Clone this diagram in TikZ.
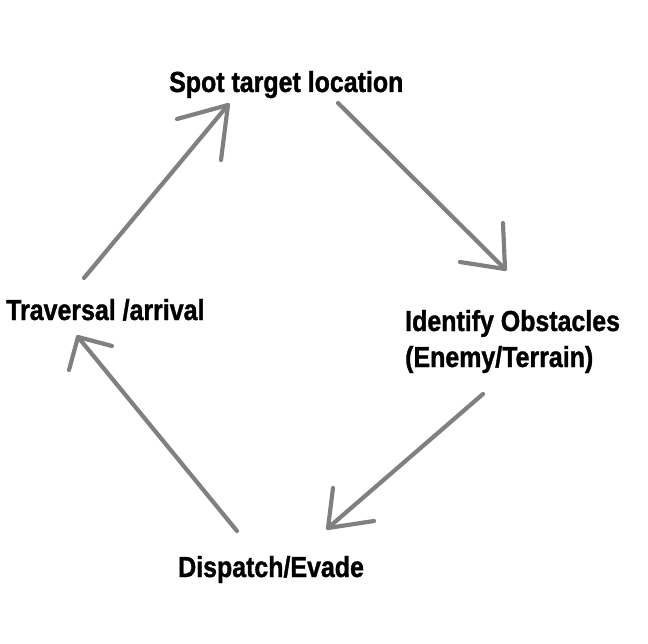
\documentclass[tikz,border=0pt]{standalone}
\usepackage{fontspec}
\usetikzlibrary{calc}
\setmainfont{Liberation Sans}
\newfontfamily\labelfont[FakeStretch=0.86,FakeBold=1.2]{Liberation Sans}
\begin{document}
\begin{tikzpicture}[x=1pt,y=-1pt,
  lbl/.style={font=\labelfont\bfseries\fontsize{29}{36}\selectfont, inner sep=0pt, anchor=base west, align=left, text=black},
  shaft/.style={draw=gray, line width=4.2pt, line cap=round, line join=round}]
\useasboundingbox[fill=white] (0,0) rectangle (648,644);
% labels
\node[lbl] (spot) at (169,92) {Spot target location};
\node[lbl] (ident) at (405,367) {Identify Obstacles\\(Enemy/Terrain)};
\node[lbl] (trav) at (6,320) {Traversal /arrival};
\node[lbl] (disp) at (178,577) {Dispatch/Evade};
% arrow end points
\coordinate (s1) at (84,278);  \coordinate (t1) at (228,105);
\coordinate (s2) at (338,103); \coordinate (t2) at (505,269);
\coordinate (s3) at (483,394); \coordinate (t3) at (328,528);
\coordinate (s4) at (237,531); \coordinate (t4) at (78,337);
% shafts
\draw[shaft] (s1) -- (t1);
\draw[shaft] (s2) -- (t2);
\draw[shaft] (s3) -- (t3);
\draw[shaft] (s4) -- (t4);
% heads
\draw[shaft] ($(t1)+(-51,14)$) -- (t1) -- ($(t1)+(-7,55)$);
\draw[shaft] ($(t2)+(-45,-7)$) -- (t2) -- ($(t2)+(-2,-46)$);
\draw[shaft] ($(t3)+(5,-40)$) -- (t3) -- ($(t3)+(46,-7)$);
\draw[shaft] ($(t4)+(-9,33)$) -- (t4) -- ($(t4)+(34,9)$);
\end{tikzpicture}
\end{document}
